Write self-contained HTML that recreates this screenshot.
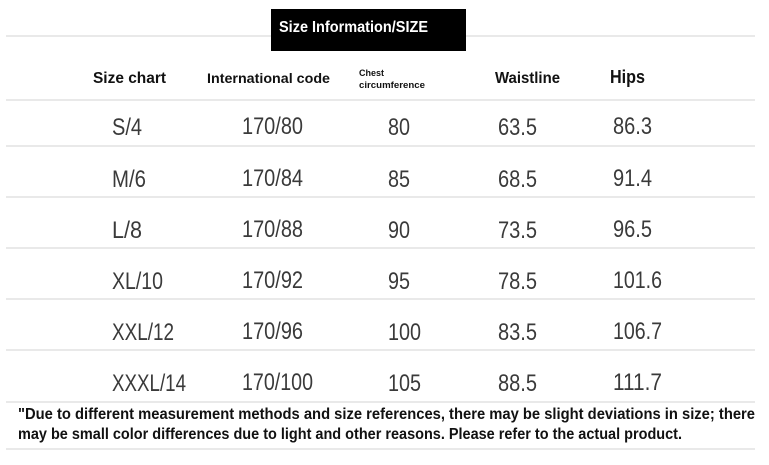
<!DOCTYPE html>
<html><head><style>
body{margin:0;background:#fff}
svg{display:block}
</style></head><body>
<svg width="769" height="465" viewBox="0 0 769 465" xmlns="http://www.w3.org/2000/svg">
<rect width="769" height="465" fill="#fff"/>
<g stroke="#e2e2e2" stroke-width="1.5">
<line x1="6" y1="36" x2="755" y2="36"/>
<line x1="6" y1="100" x2="755" y2="100"/>
<line x1="6" y1="146" x2="755" y2="146"/>
<line x1="6" y1="197" x2="755" y2="197"/>
<line x1="6" y1="248" x2="755" y2="248"/>
<line x1="6" y1="299" x2="755" y2="299"/>
<line x1="6" y1="350" x2="755" y2="350"/>
<line x1="6" y1="402" x2="755" y2="402"/>
<line x1="6" y1="449" x2="755" y2="449"/>
</g>
<rect x="271" y="9" width="195" height="42" fill="#000"/>
<g font-family="Liberation Sans, sans-serif" font-weight="bold">
<text x="279" y="32" fill="#fff" font-size="16" textLength="149" lengthAdjust="spacingAndGlyphs">Size Information/SIZE</text>
<g fill="#111">
<text x="93" y="83" font-size="16" textLength="73" lengthAdjust="spacingAndGlyphs">Size chart</text>
<text x="207" y="83" font-size="14" textLength="123" lengthAdjust="spacingAndGlyphs">International code</text>
<text x="359" y="76" font-size="9" textLength="25" lengthAdjust="spacingAndGlyphs">Chest</text>
<text x="359" y="88" font-size="9" textLength="66" lengthAdjust="spacingAndGlyphs">circumference</text>
<text x="495" y="83" font-size="16" textLength="65" lengthAdjust="spacingAndGlyphs">Waistline</text>
<text x="610" y="83" font-size="18" textLength="35" lengthAdjust="spacingAndGlyphs">Hips</text>
<text x="18" y="419" font-size="16" textLength="737" lengthAdjust="spacingAndGlyphs">"Due to different measurement methods and size references, there may be slight deviations in size; there</text>
<text x="18" y="439" font-size="16" textLength="664" lengthAdjust="spacingAndGlyphs">may be small color differences due to light and other reasons. Please refer to the actual product.</text>
</g>
</g>
<g font-family="Liberation Sans, sans-serif" font-size="24" fill="#3a3a3a">
<text x="112" y="135" textLength="30" lengthAdjust="spacingAndGlyphs">S/4</text>
<text x="242" y="134" textLength="61" lengthAdjust="spacingAndGlyphs">170/80</text>
<text x="388" y="135" textLength="22" lengthAdjust="spacingAndGlyphs">80</text>
<text x="498" y="135" textLength="39" lengthAdjust="spacingAndGlyphs">63.5</text>
<text x="613" y="134" textLength="39" lengthAdjust="spacingAndGlyphs">86.3</text>

<text x="112" y="187" textLength="34" lengthAdjust="spacingAndGlyphs">M/6</text>
<text x="242" y="186" textLength="61" lengthAdjust="spacingAndGlyphs">170/84</text>
<text x="388" y="187" textLength="22" lengthAdjust="spacingAndGlyphs">85</text>
<text x="498" y="187" textLength="39" lengthAdjust="spacingAndGlyphs">68.5</text>
<text x="613" y="186" textLength="39" lengthAdjust="spacingAndGlyphs">91.4</text>

<text x="112" y="238" textLength="30" lengthAdjust="spacingAndGlyphs">L/8</text>
<text x="242" y="237" textLength="61" lengthAdjust="spacingAndGlyphs">170/88</text>
<text x="388" y="238" textLength="22" lengthAdjust="spacingAndGlyphs">90</text>
<text x="498" y="238" textLength="39" lengthAdjust="spacingAndGlyphs">73.5</text>
<text x="613" y="237" textLength="39" lengthAdjust="spacingAndGlyphs">96.5</text>

<text x="112" y="289" textLength="51" lengthAdjust="spacingAndGlyphs">XL/10</text>
<text x="242" y="288" textLength="61" lengthAdjust="spacingAndGlyphs">170/92</text>
<text x="388" y="289" textLength="22" lengthAdjust="spacingAndGlyphs">95</text>
<text x="498" y="289" textLength="39" lengthAdjust="spacingAndGlyphs">78.5</text>
<text x="613" y="288" textLength="49" lengthAdjust="spacingAndGlyphs">101.6</text>

<text x="112" y="340" textLength="62" lengthAdjust="spacingAndGlyphs">XXL/12</text>
<text x="242" y="339" textLength="61" lengthAdjust="spacingAndGlyphs">170/96</text>
<text x="388" y="340" textLength="33" lengthAdjust="spacingAndGlyphs">100</text>
<text x="498" y="340" textLength="39" lengthAdjust="spacingAndGlyphs">83.5</text>
<text x="613" y="339" textLength="49" lengthAdjust="spacingAndGlyphs">106.7</text>

<text x="112" y="391" textLength="74" lengthAdjust="spacingAndGlyphs">XXXL/14</text>
<text x="242" y="390" textLength="71" lengthAdjust="spacingAndGlyphs">170/100</text>
<text x="388" y="391" textLength="33" lengthAdjust="spacingAndGlyphs">105</text>
<text x="498" y="391" textLength="39" lengthAdjust="spacingAndGlyphs">88.5</text>
<text x="613" y="390" textLength="49" lengthAdjust="spacingAndGlyphs">111.7</text>
</g>
</svg>
</body></html>
